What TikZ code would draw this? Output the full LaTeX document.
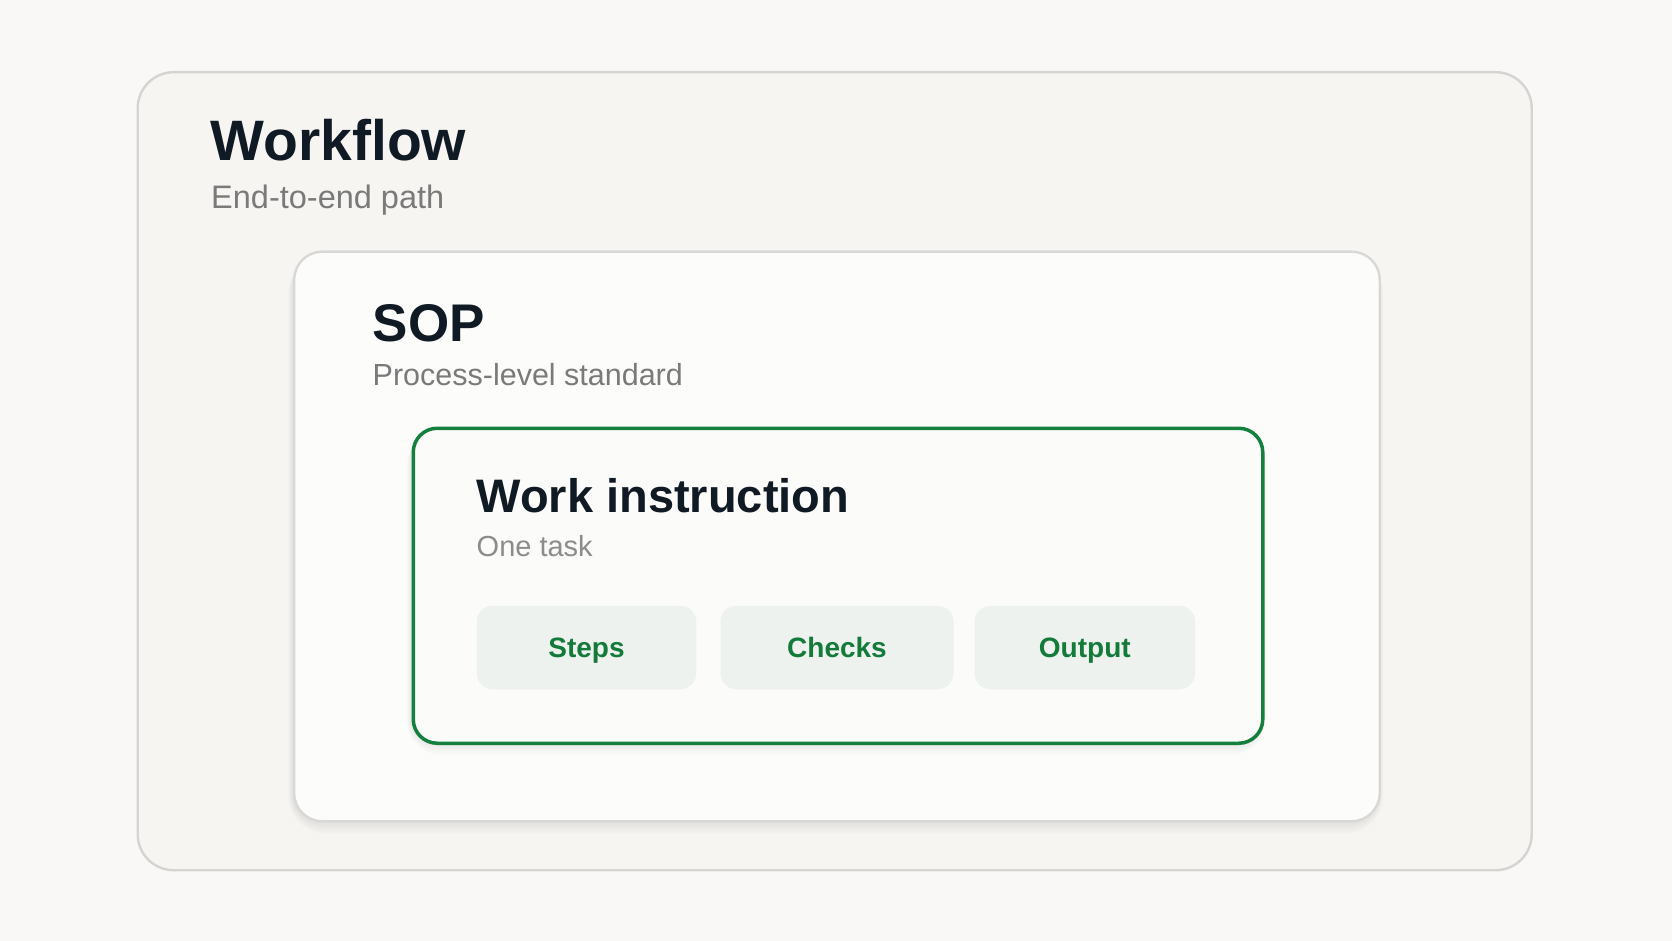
\documentclass[tikz,border=0pt]{standalone}
\usepackage{fontspec}
\setmainfont{Liberation Sans}
\definecolor{bgc}{HTML}{F9F8F6}
\definecolor{outerfill}{HTML}{F6F5F2}
\definecolor{outerline}{HTML}{D4D4D2}
\definecolor{sopfill}{HTML}{FCFCFB}
\definecolor{sopline}{HTML}{D8D8D7}
\definecolor{wigreen}{HTML}{15803D}
\definecolor{wifill}{HTML}{FBFBFA}
\definecolor{pillfill}{HTML}{EDF2EE}
\definecolor{pilltext}{HTML}{137A3A}
\definecolor{titlec}{HTML}{101A24}
\definecolor{subc}{HTML}{7A7A7A}
\definecolor{subc2}{HTML}{8C8C8C}
% soft shadow: x0 y0 x1 y1 radius (pixels, y downward)
\newcommand{\mysoftshadow}[5]{%
  \foreach \k in {1,...,10}{%
    \fill[black, opacity=0.008, rounded corners=#5pt+\k pt]
      (#1-\k*0.5, #2+6) rectangle (#3+\k*0.5, #4+\k*1.2);
  }%
}
\begin{document}
\begin{tikzpicture}[x=1pt,y=-1pt,
  panel/.style={rectangle, anchor=north west, inner sep=0pt},
  outerbox/.style={panel, fill=outerfill, draw=outerline, line width=2.4pt, rounded corners=36pt},
  sopbox/.style={panel, fill=sopfill, draw=sopline, line width=2.4pt, rounded corners=28pt},
  wibox/.style={panel, fill=wifill, draw=wigreen, line width=3.5pt, rounded corners=24pt},
  pill/.style={rectangle, fill=pillfill, rounded corners=16pt, minimum height=83.5pt, inner sep=0pt,
    text height=20pt, text depth=0pt, text=pilltext, font=\fontsize{28}{30}\selectfont\bfseries},
  txt/.style={anchor=base west, inner sep=0pt},
  bigtitle/.style={txt, text=titlec, font=\fontsize{57}{60}\selectfont\bfseries},
  midtitle/.style={txt, text=titlec, font=\fontsize{53}{56}\selectfont\bfseries},
  smalltitle/.style={txt, text=titlec, font=\fontsize{47}{50}\selectfont\bfseries},
  subtitle/.style={txt, text=subc, font=\fontsize{32.5}{35}\selectfont},
  subtitlelight/.style={txt, text=subc2, font=\fontsize{29}{32}\selectfont}
]
\fill[bgc] (0,0) rectangle (1672,941);
\useasboundingbox (0,0) rectangle (1672,941);

% Workflow container
\node[outerbox, minimum width=1394pt, minimum height=798pt] (wf) at (136.5,71) {};
\node[bigtitle] (wftitle) at (210.5,160.5) {Workflow};
\node[subtitle] (wfsub) at (211,208.5) {End-to-end path};

% SOP container
\mysoftshadow{293}{250.5}{1378.5}{822}{28}
\node[sopbox, minimum width=1085.5pt, minimum height=569.5pt] (sop) at (293,250.5) {};
\node[midtitle] (soptitle) at (372.5,341.5) {SOP};
\node[subtitle, font=\fontsize{30.5}{33}\selectfont] (sopsub) at (372.5,385.5) {Process-level standard};

% Work instruction container
\mysoftshadow{411.5}{426.5}{1261}{743}{24}
\node[wibox, minimum width=849.5pt, minimum height=315pt] (wi) at (411.5,426.5) {};
\node[smalltitle] (wititle) at (476.5,512) {Work instruction};
\node[subtitlelight] (wisub) at (476.5,556) {One task};

% Pills
\node[pill, minimum width=219.5pt] (steps) at (586.5,647.5) {Steps};
\node[pill, minimum width=233pt] (checks) at (837,647.5) {Checks};
\node[pill, minimum width=220.5pt] (output) at (1084.8,647.5) {Output};
\end{tikzpicture}
\end{document}
